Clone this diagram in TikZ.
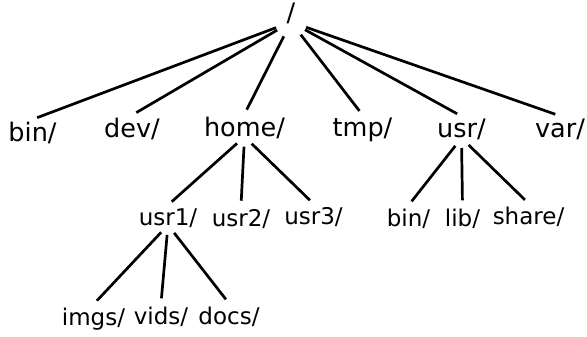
\documentclass[tikz,border=0pt]{standalone}
\usepackage{fontspec}
\setmainfont{DejaVu Sans}

\begin{document}
\begin{tikzpicture}[x=1pt, y=-1pt,
  top/.style={anchor=base, inner sep=3pt, font=\fontsize{25.5}{30}\selectfont},
  sub/.style={anchor=base, inner sep=3pt, font=\fontsize{23}{27}\selectfont},
  link/.style={line width=2.7pt, shorten <=10pt, shorten >=5pt},
  rootlink/.style={link, shorten <=16pt}]
\useasboundingbox (0,0) rectangle (587,337);

\node[top] (root) at (291,22) {/};

\node[top] (bin) at (32.5,142) {bin/};
\node[top] (dev) at (132,137.7) {dev/};
\node[top] (home) at (244.5,136.7) {home/};
\node[top] (tmp) at (362.5,136.7) {tmp/};
\node[top] (usr) at (461.5,138) {usr/};
\node[top] (var) at (560,137.7) {var/};

\node[sub] (usrone) at (168,225) {usr1/};
\node[sub] (usrtwo) at (241,226) {usr2/};
\node[sub] (usrthree) at (313.5,224) {usr3/};
\node[sub] (usrbin) at (408.5,226) {bin/};
\node[sub] (usrlib) at (462.5,226) {lib/};
\node[sub] (usrshare) at (528.5,224) {share/};

\node[sub] (imgs) at (93.5,325) {imgs/};
\node[sub] (vids) at (161,324) {vids/};
\node[sub] (docs) at (229,324) {docs/};

\draw[rootlink] (root.base) -- (bin.north);
\draw[rootlink] (root.base) -- (dev.north);
\draw[rootlink] (root.base) -- (home.north);
\draw[rootlink] (root.base) -- (tmp.north);
\draw[rootlink] (root.base) -- (usr.north);
\draw[rootlink] (root.base) -- (var.north);

\draw[link] (home.base) -- (usrone.north);
\draw[link] (home.base) -- (usrtwo.north);
\draw[link] (home.base) -- (usrthree.north);

\draw[link] (usr.base) -- (usrbin.north);
\draw[link] (usr.base) -- (usrlib.north);
\draw[link] (usr.base) -- (usrshare.north);

\draw[link] (usrone.base) -- (imgs.north);
\draw[link] (usrone.base) -- (vids.north);
\draw[link] (usrone.base) -- (docs.north);
\end{tikzpicture}
\end{document}
